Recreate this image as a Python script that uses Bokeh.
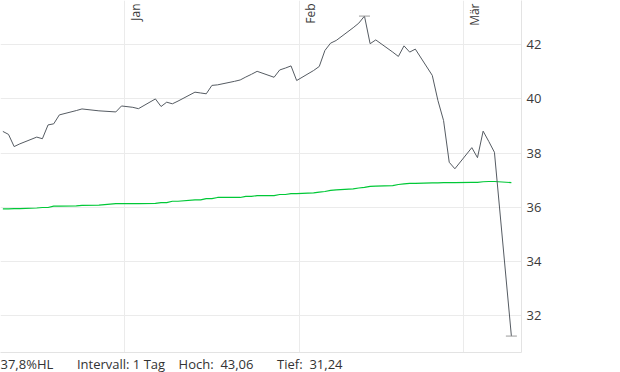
import pandas as pd
from bokeh.plotting import figure
from bokeh.models import ColumnDataSource, FixedTicker, Range1d, Title
from bokeh.core.properties import value
from bokeh.embed import file_html
from bokeh.resources import INLINE

# ---------------- data ----------------
dates = [
    "2019-12-10", "2019-12-11", "2019-12-12", "2019-12-13", "2019-12-16", "2019-12-17",
    "2019-12-18", "2019-12-19", "2019-12-20", "2019-12-23", "2019-12-24", "2019-12-27",
    "2019-12-30", "2019-12-31", "2020-01-02", "2020-01-03", "2020-01-06", "2020-01-07",
    "2020-01-08", "2020-01-09", "2020-01-10", "2020-01-13", "2020-01-14", "2020-01-15",
    "2020-01-16", "2020-01-17", "2020-01-20", "2020-01-21", "2020-01-22", "2020-01-23",
    "2020-01-24", "2020-01-27", "2020-01-28", "2020-01-29", "2020-01-30", "2020-01-31",
    "2020-02-03", "2020-02-04", "2020-02-05", "2020-02-06", "2020-02-07", "2020-02-10",
    "2020-02-11", "2020-02-12", "2020-02-13", "2020-02-14", "2020-02-17", "2020-02-18",
    "2020-02-19", "2020-02-20", "2020-02-21", "2020-02-24", "2020-02-25", "2020-02-26",
    "2020-02-27", "2020-02-28", "2020-03-02", "2020-03-03", "2020-03-04", "2020-03-05",
    "2020-03-06", "2020-03-09",
]
close = [
    38.80, 38.69, 38.24, 38.34, 38.59, 38.53,
    39.04, 39.08, 39.41, 39.57, 39.63, 39.56,
    39.52, 39.74, 39.69, 39.64, 40.00, 39.72,
    39.88, 39.82, 39.92, 40.25, 40.22, 40.19,
    40.50, 40.52, 40.65, 40.70, 40.81, 40.91,
    41.02, 40.80, 41.07, 41.14, 41.22, 40.68,
    41.05, 41.20, 41.79, 42.06, 42.16, 42.63,
    42.80, 43.06, 42.04, 42.18, 41.73, 41.57,
    41.96, 41.73, 41.84, 40.87, 39.94, 39.20,
    37.66, 37.42, 38.20, 37.83, 38.81, 38.43,
    38.03, 31.24,
]
ma200 = [
    35.94, 35.94, 35.95, 35.95, 35.97, 35.99,
    35.99, 36.04, 36.04, 36.05, 36.07, 36.08,
    36.13, 36.13, 36.13, 36.13, 36.14, 36.17,
    36.17, 36.22, 36.22, 36.27, 36.27, 36.32,
    36.32, 36.36, 36.36, 36.36, 36.40, 36.40,
    36.43, 36.43, 36.47, 36.47, 36.50, 36.50,
    36.53, 36.56, 36.58, 36.62, 36.64, 36.68,
    36.71, 36.73, 36.77, 36.78, 36.80, 36.84,
    36.86, 36.88, 36.88, 36.90, 36.90, 36.91,
    36.91, 36.91, 36.92, 36.92, 36.94, 36.95,
    36.95, 36.91,
]
month_starts = ["2020-01-01", "2020-02-01", "2020-03-01"]
month_labels = ["Jan", "Feb", "Mär"]
y_ticks = [32, 34, 36, 38, 40, 42]
vola_text = "37,8%HL"
interval_text = "Intervall: 1 Tag"

# ---------------- derived ----------------
x_dates = pd.to_datetime(dates) + pd.Timedelta(hours=10)
src = ColumnDataSource(dict(x=x_dates, close=close, ma=ma200))

hi_i = max(range(len(close)), key=lambda i: close[i])
lo_i = min(range(len(close)), key=lambda i: close[i])

def de(v):
    return f"{v:.2f}".replace(".", ",")

FONT = "Open Sans"
GRID = "#ebebeb"

x_start = pd.Timestamp("2019-12-10 00:00")
x_end = pd.Timestamp("2020-03-11 05:00")

p = figure(
    width=604, height=372,
    x_axis_type="datetime", y_axis_location="right",
    x_range=Range1d(x_start, x_end), y_range=Range1d(30.633, 43.636),
    output_backend="svg", toolbar_location=None,
    min_border_left=0, min_border_top=0, min_border_right=83, min_border_bottom=20,
)
p.outline_line_color = None
p.background_fill_color = "white"
p.border_fill_color = "white"

# x axis: only the bottom line
p.xaxis.ticker = FixedTicker(ticks=[])
p.xaxis.axis_line_color = "#e3e3e3"
p.xaxis.major_tick_out = 0
p.xaxis.minor_tick_out = 0
p.xaxis.major_label_standoff = 0
p.xaxis.major_label_text_font_size = "1px"

# y axis on the right
p.yaxis.ticker = FixedTicker(ticks=y_ticks)
p.yaxis.axis_line_color = "#e3e3e3"
p.yaxis.major_tick_out = 0
p.yaxis.major_tick_in = 0
p.yaxis.minor_tick_out = 0
p.yaxis.minor_tick_in = 0
p.yaxis.major_label_standoff = 5
p.yaxis.major_label_text_font = FONT
p.yaxis.major_label_text_font_size = "13px"
p.yaxis.major_label_text_color = "#3a3a3a"

month_ms = [pd.Timestamp(m).value // 10**6 for m in month_starts]
p.xgrid.ticker = FixedTicker(ticks=month_ms)
p.xgrid.grid_line_color = GRID
p.ygrid.ticker = FixedTicker(ticks=y_ticks)
p.ygrid.grid_line_color = GRID

# month labels (rotated, inside the plot at the top)
msrc = ColumnDataSource(dict(x=pd.to_datetime(month_starts), y=[p.y_range.end] * 3, t=month_labels))
p.text(x="x", y="y", text="t", source=msrc, angle=1.5708, text_align="right",
       text_baseline="top", x_offset=2, y_offset=3,
       text_font=value(FONT), text_font_size="12px", text_color="#3a3a3a")

# series
p.line("x", "ma", source=src, line_color="#00c837", line_width=1.2)
p.line("x", "close", source=src, line_color="#555b62", line_width=1)

# high / low markers
p.scatter(x=[x_dates[hi_i], x_dates[lo_i]], y=[close[hi_i], close[lo_i]],
          marker="dash", size=11, line_color="#9a9a9a", line_width=1)

# footer line (non-breaking spaces keep the gaps)
NB = "\u00a0"
footer = (vola_text + NB * 7 + interval_text + NB * 4 + "Hoch:" + NB * 2 + de(close[hi_i])
          + NB * 7 + "Tief:" + NB * 2 + de(close[lo_i]))
p.add_layout(Title(text=footer, align="left", offset=0, standoff=0,
                   text_font=FONT, text_font_size="13px", text_font_style="normal",
                   text_color="#333333"), "below")

open("out.html", "w").write(file_html(p, INLINE))
